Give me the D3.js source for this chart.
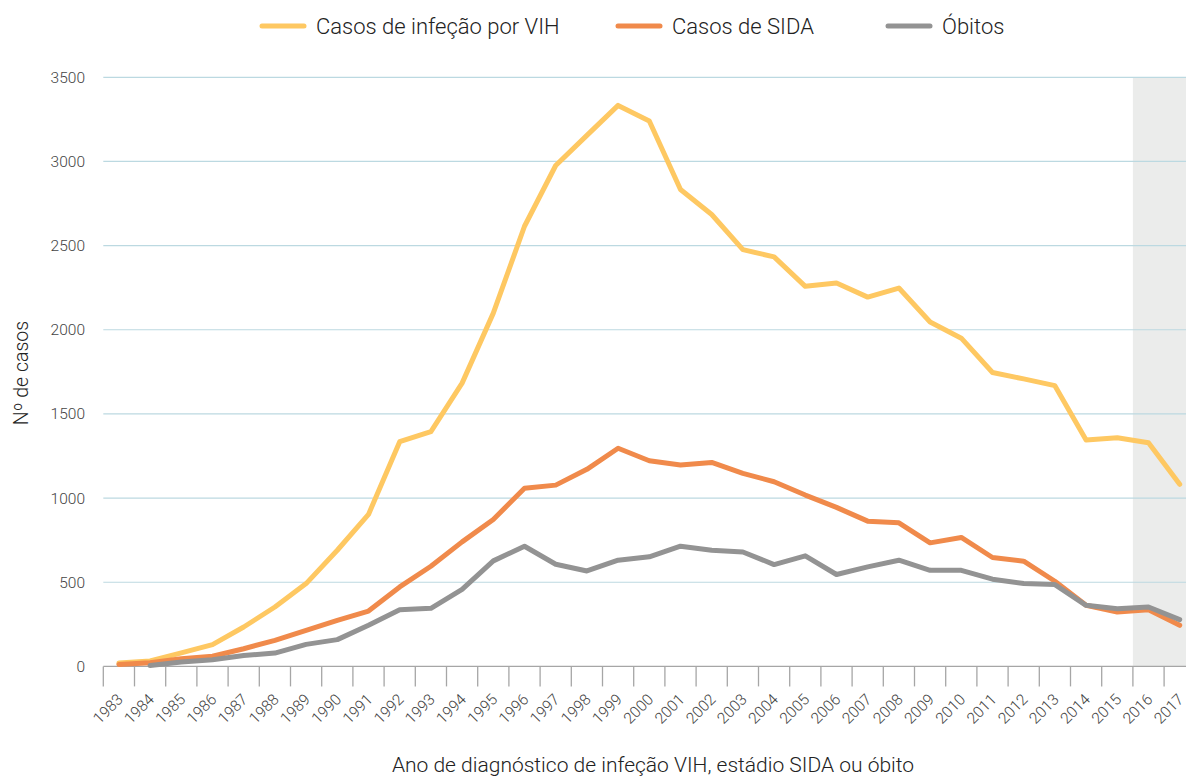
<!DOCTYPE html>
<html><head><meta charset="utf-8">
<script src="https://cdn.jsdelivr.net/npm/d3@7"></script>
<style>
html,body{margin:0;padding:0;background:#fff;}
svg{display:block;font-family:Roboto,"Open Sans",sans-serif;}
</style></head>
<body>
<svg id="chart" width="1186" height="778"></svg>
<script>
const years = ["1983","1984","1985","1986","1987","1988","1989","1990","1991","1992","1993","1994","1995","1996","1997","1998","1999","2000","2001","2002","2003","2004","2005","2006","2007","2008","2009","2010","2011","2012","2013","2014","2015","2016","2017"];
const vih = [20,32,80,129,234,353,492,690,903,1335,1395,1683,2099,2615,2976,3155,3333,3240,2833,2685,2476,2433,2258,2278,2194,2248,2046,1950,1746,1708,1668,1345,1359,1329,1082];
const sida = [12,22,46,60,105,155,214,274,329,472,595,740,873,1058,1077,1171,1296,1222,1196,1212,1147,1097,1018,945,863,853,734,766,647,625,506,363,323,337,244];
const obitos = [null,6,26,40,65,79,131,159,244,337,345,458,627,714,607,567,631,651,714,690,680,605,657,546,591,631,571,571,518,492,486,363,343,353,278];
const yTicks = [0,500,1000,1500,2000,2500,3000,3500];
const shadedYears = ["2016","2017"];
const seriesNames = ["Casos de infeção por VIH","Casos de SIDA","Óbitos"];
const colors = ["#fec862","#f08a4b","#939393"];

const svg = d3.select("#chart");
const mLeft = 103.3, mRight = 1195.3, mTop = 77.3, mBottom = 666.4;

const x = d3.scaleBand().domain(years).range([mLeft, mRight]).paddingInner(0).paddingOuter(0);
const y = d3.scaleLinear().domain([0, 3500]).range([mBottom, mTop]);

// shaded projection area
svg.append("rect")
  .attr("x", x(shadedYears[0]))
  .attr("y", y(3500))
  .attr("width", x(shadedYears[1]) + x.bandwidth() - x(shadedYears[0]))
  .attr("height", y(0) - y(3500))
  .attr("fill", "#ebeceb");

// gridlines
svg.append("g").selectAll("line").data(yTicks.filter(d => d > 0)).join("line")
  .attr("x1", mLeft).attr("x2", mRight)
  .attr("y1", d => y(d)).attr("y2", d => y(d))
  .attr("stroke", "#bcd9e1").attr("stroke-width", 1.2);

// y labels
svg.append("g").selectAll("text").data(yTicks).join("text")
  .attr("x", 85).attr("y", d => y(d)).attr("dy", "0.35em")
  .attr("text-anchor", "end")
  .attr("font-size", 15.5).attr("font-weight", 300).attr("fill", "#444")
  .text(d => d);

// x axis line and ticks
svg.append("line").attr("x1", mLeft).attr("x2", mRight)
  .attr("y1", y(0)).attr("y2", y(0)).attr("stroke", "#a6a6a6").attr("stroke-width", 1.3);
const tickPos = years.map(d => x(d)).concat([x(years[years.length-1]) + x.bandwidth()]);
svg.append("g").selectAll("line").data(tickPos).join("line")
  .attr("x1", d => d).attr("x2", d => d)
  .attr("y1", y(0)).attr("y2", y(0) + 20)
  .attr("stroke", "#a6a6a6").attr("stroke-width", 1.3);

// x labels
svg.append("g").selectAll("text").data(years).join("text")
  .attr("transform", d => `translate(${x(d) + x.bandwidth()/2 + 5},${y(0) + 34}) rotate(-45)`)
  .attr("text-anchor", "end")
  .attr("font-size", 15.5).attr("font-weight", 300).attr("fill", "#444")
  .text(d => d);

// lines
const allSeries = [vih, sida, obitos];
const line = d3.line()
  .defined(d => d != null)
  .x((d, i) => x(years[i]) + x.bandwidth()/2)
  .y(d => y(d));
allSeries.forEach((s, k) => {
  svg.append("path").datum(s)
    .attr("d", line)
    .attr("fill", "none")
    .attr("stroke", colors[k])
    .attr("stroke-width", 5)
    .attr("stroke-linejoin", "round")
    .attr("stroke-linecap", "round");
});

// axis titles
svg.append("text")
  .attr("transform", `translate(28, 373) rotate(-90)`)
  .attr("text-anchor", "middle")
  .attr("font-size", 19.5).attr("font-weight", 300).attr("fill", "#222")
  .text("Nº de casos");
svg.append("text")
  .attr("x", 653).attr("y", 772)
  .attr("text-anchor", "middle")
  .attr("font-size", 21).attr("font-weight", 300).attr("fill", "#222")
  .text("Ano de diagnóstico de infeção VIH, estádio SIDA ou óbito");

// legend
const legendX = [260, 616, 886];
const lg = svg.append("g");
seriesNames.forEach((name, k) => {
  lg.append("line")
    .attr("x1", legendX[k] + 2).attr("x2", legendX[k] + 44)
    .attr("y1", 26).attr("y2", 26)
    .attr("stroke", colors[k]).attr("stroke-width", 5).attr("stroke-linecap", "round");
  lg.append("text")
    .attr("x", legendX[k] + 56).attr("y", 26).attr("dy", "0.35em")
    .attr("font-size", 22).attr("font-weight", 300).attr("fill", "#222")
    .text(name);
});
</script>
</body></html>
